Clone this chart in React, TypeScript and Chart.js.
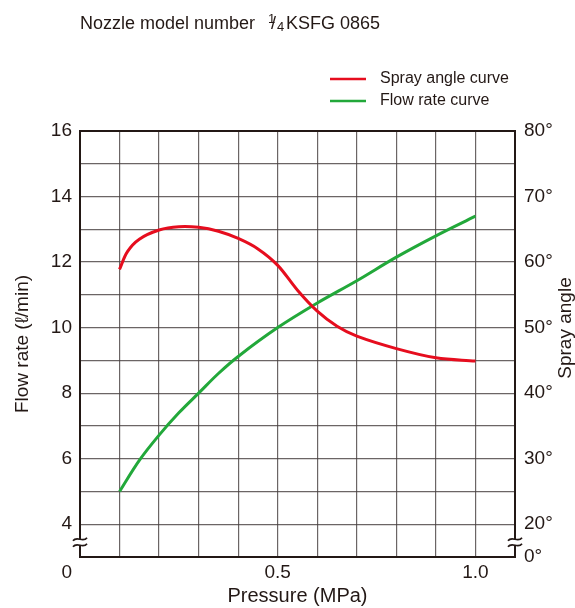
import React, { useEffect, useRef } from 'react';
import { Chart, registerables } from 'chart.js';

Chart.register(...registerables);

// Spray angle curve (degrees) vs pressure (MPa)
const pressureAngle = [0.1, 0.12, 0.15, 0.2, 0.25, 0.3, 0.35, 0.4, 0.45, 0.5, 0.55, 0.6, 0.65, 0.7, 0.8, 0.9, 1.0];
const sprayAngle = [58.9, 61.6, 63.5, 64.9, 65.4, 65.3, 64.7, 63.6, 62.0, 59.5, 55.7, 52.5, 50.2, 48.7, 46.8, 45.4, 44.9];

// Flow rate curve (l/min) vs pressure (MPa)
const pressureFlow = [0.1, 0.15, 0.2, 0.25, 0.3, 0.35, 0.4, 0.5, 0.6, 0.7, 0.8, 0.9, 1.0];
const flowRate = [5.0, 5.95, 6.72, 7.4, 8.0, 8.6, 9.12, 10.0, 10.75, 11.43, 12.15, 12.8, 13.4];

// Tick labels
const flowTickLabels = [4, 6, 8, 10, 12, 14, 16];
const angleTickLabels = [20, 30, 40, 50, 60, 70, 80];
const pressureTickLabels = ['0', '0.5', '1.0'];

const FONT = "'Liberation Sans', Arial, Helvetica, sans-serif";
const INK = '#231815';
const GRID = 'rgba(70,62,62,0.8)';
const RED = '#e60d1e';
const GREEN = '#22a83a';

const decor = {
  id: 'decor',
  afterDraw(chart: any) {
    const { ctx, chartArea: a } = chart;
    ctx.save();
    // frame
    ctx.strokeStyle = INK;
    ctx.lineWidth = 2;
    ctx.strokeRect(a.left, a.top, a.right - a.left, a.bottom - a.top);

    // axis break marks
    const yb = chart.scales.y.getPixelForValue(3.45);
    for (const x of [a.left, a.right]) {
      ctx.fillStyle = '#fff';
      ctx.fillRect(x - 2, yb - 3, 4, 6);
      ctx.strokeStyle = INK;
      ctx.lineWidth = 1.7;
      for (const dy of [-3, 3]) {
        const y = yb + dy;
        ctx.beginPath();
        ctx.moveTo(x - 7, y + 1.5);
        ctx.bezierCurveTo(x - 3, y - 4, x + 3, y + 4, x + 7, y - 1.5);
        ctx.stroke();
      }
    }

    // title
    ctx.fillStyle = INK;
    ctx.textAlign = 'left';
    ctx.textBaseline = 'alphabetic';
    ctx.font = `18px ${FONT}`;
    ctx.fillText('Nozzle model number', 80, 29);
    ctx.font = `13px ${FONT}`;
    ctx.fillText('1', 268, 23);
    ctx.font = `18px ${FONT}`;
    ctx.fillText('/', 271, 29);
    ctx.font = `13px ${FONT}`;
    ctx.fillText('4', 277, 31);
    ctx.font = `18px ${FONT}`;
    ctx.fillText('KSFG 0865', 286, 29);

    // legend
    chart.data.datasets.forEach((ds: any, i: number) => {
      const y = 79 + i * 22;
      ctx.strokeStyle = ds.borderColor;
      ctx.lineWidth = 2.5;
      ctx.beginPath();
      ctx.moveTo(330, y);
      ctx.lineTo(366, y);
      ctx.stroke();
      ctx.fillStyle = INK;
      ctx.font = `16px ${FONT}`;
      ctx.textBaseline = 'middle';
      ctx.fillText(ds.label, 380, y);
    });

    // right axis title (reads bottom to top)
    ctx.translate(566, 328);
    ctx.rotate(-Math.PI / 2);
    ctx.textAlign = 'center';
    ctx.textBaseline = 'middle';
    ctx.font = `19px ${FONT}`;
    ctx.fillStyle = INK;
    ctx.fillText('Spray angle', 0, 0);
    ctx.restore();
  },
};

export default function App() {
  const ref = useRef<HTMLCanvasElement | null>(null);

  useEffect(() => {
    if (!ref.current) return;
    const near = (a: number, b: number) => Math.abs(a - b) < 1e-6;
    const chart = new Chart(ref.current, {
      type: 'line',
      data: {
        datasets: [
          {
            label: 'Spray angle curve',
            data: pressureAngle.map((x, i) => ({ x, y: sprayAngle[i] })),
            yAxisID: 'y2',
            borderColor: RED,
            borderWidth: 3,
            pointRadius: 0,
            fill: false,
            tension: 0.35,
          },
          {
            label: 'Flow rate curve',
            data: pressureFlow.map((x, i) => ({ x, y: flowRate[i] })),
            yAxisID: 'y',
            borderColor: GREEN,
            borderWidth: 3,
            pointRadius: 0,
            fill: false,
            tension: 0.35,
          },
        ],
      },
      options: {
        responsive: true,
        maintainAspectRatio: false,
        animation: false,
        layout: { padding: { top: 131, left: 0, right: 0, bottom: 0 } },
        plugins: {
          legend: { display: false },
          title: { display: false },
          tooltip: { enabled: false },
        },
        scales: {
          x: {
            type: 'linear',
            min: 0,
            max: 1.1,
            ticks: {
              stepSize: 0.1,
              autoSkip: false,
              maxRotation: 0,
              padding: 4,
              color: INK,
              font: { family: FONT, size: 19 },
              callback: (v: any) => {
                const n = Number(v);
                if (near(n, 0)) return pressureTickLabels[0] + '     ';
                if (near(n, 0.5)) return pressureTickLabels[1];
                if (near(n, 1.0)) return pressureTickLabels[2];
                return '';
              },
            },
            grid: { color: GRID, lineWidth: 1.2, drawTicks: false },
            border: { display: false },
            title: {
              display: true,
              text: 'Pressure (MPa)',
              color: INK,
              font: { family: FONT, size: 20 },
              padding: { top: 0, bottom: 0 },
            },
            afterFit: (s: any) => {
              s.height = 51;
            },
          },
          y: {
            type: 'linear',
            position: 'left',
            min: 3,
            max: 16,
            ticks: {
              stepSize: 1,
              autoSkip: false,
              padding: 8,
              color: INK,
              font: { family: FONT, size: 19 },
              callback: (v: any) => (flowTickLabels.includes(Number(v)) ? String(v) : ''),
            },
            grid: { color: GRID, lineWidth: 1.2, drawTicks: false },
            border: { display: false },
            title: {
              display: true,
              text: 'Flow rate (ℓ/min)',
              color: INK,
              font: { family: FONT, size: 19 },
              padding: { top: 11, bottom: 0 },
            },
            afterFit: (s: any) => {
              s.width = 80;
            },
          },
          y2: {
            type: 'linear',
            position: 'right',
            min: 15,
            max: 80,
            ticks: {
              stepSize: 5,
              autoSkip: false,
              padding: 9,
              color: INK,
              font: { family: FONT, size: 19 },
              callback: (v: any) => {
                const n = Number(v);
                if (n === 15) return '0°';
                return angleTickLabels.includes(n) ? n + '°' : '';
              },
            },
            grid: { display: false, drawTicks: false },
            border: { display: false },
            afterFit: (s: any) => {
              s.width = 60;
            },
          },
        },
      },
      plugins: [decor],
    } as any);
    return () => chart.destroy();
  }, []);

  return (
    <div style={{ position: 'absolute', left: 0, top: 0, width: 575, height: 608, background: '#fff' }}>
      <canvas ref={ref} />
    </div>
  );
}
